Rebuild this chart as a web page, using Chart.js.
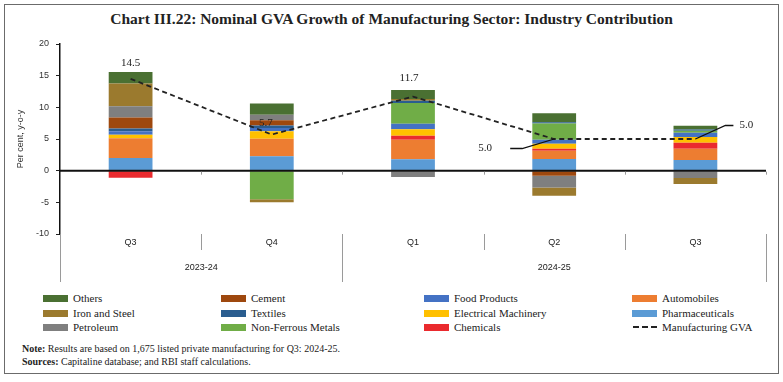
<!DOCTYPE html>
<html><head><meta charset="utf-8">
<script src="https://cdn.jsdelivr.net/npm/chart.js@4.4.1/dist/chart.umd.min.js"></script>
<style>
html,body{margin:0;padding:0;background:#fff;width:783px;height:382px;overflow:hidden;}
#frame{position:absolute;left:4px;top:4px;width:775px;height:370px;border:1px solid #6b6b6b;box-sizing:border-box;}
#title{position:absolute;left:0;top:10px;width:783px;text-align:center;font:bold 15.5px "Liberation Serif",serif;color:#222;}
#wrap{position:absolute;left:0;top:31px;width:783px;height:255px;}
#legend{position:absolute;left:0;top:291px;width:783px;height:45px;font:11px "Liberation Serif",serif;color:#222;}
.li{position:absolute;height:14px;line-height:14px;white-space:nowrap;}
.sw{position:absolute;left:0;top:3.5px;width:25px;height:7px;}
.dash{position:absolute;left:1px;top:6px;width:24px;height:0;border-top:2px dashed #222;}
.tx{position:absolute;left:30px;top:0;}
#notes{position:absolute;left:22px;top:342px;font:10px "Liberation Serif",serif;color:#222;line-height:13px;}
</style></head>
<body>
<div id="frame"></div>
<div id="title">Chart III.22: Nominal GVA Growth of Manufacturing Sector: Industry Contribution</div>
<div id="wrap"><canvas id="c" width="783" height="255"></canvas></div>
<div id="legend"></div>
<div id="notes"><b>Note:</b> Results are based on 1,675 listed private manufacturing for Q3: 2024-25.<br><b>Sources:</b> Capitaline database; and RBI staff calculations.</div>
<script>
// ---- data ----
const categories = ['Q3','Q4','Q1','Q2','Q3'];
const yearLabels = ['2023-24','2024-25'];
const yearSpans = [2,3];
const yTicks = [20,15,10,5,0,-5,-10];

const pharmaceuticals   = [2.0, 2.27, 1.8, 1.85, 1.7];
const automobiles       = [3.13, 2.75, 3.1, 1.3, 1.75];
const chemicals         = [-1.1, 0, 0.6, 0.3, 0.95];
const electricalMach    = [0.53, 1.2, 1.05, 0.8, 0.9];
const foodProducts      = [0.55, 0.5, 0.85, 0.65, 0.7];
const nonFerrousMetals  = [0, -4.5, 3.3, 2.55, 0.3];
const textiles          = [0.45, 0.4, 0.35, 0.2, 0.2];
const cement            = [1.73, 0.85, 0, -0.8, 0];
const petroleum         = [1.8, 0.85, -1.0, -1.85, -1.15];
const ironAndSteel      = [3.56, -0.5, 0.25, -1.3, -0.95];
const others            = [1.84, 1.8, 1.43, 1.4, 0.6];
const manufacturingGVA  = [14.5, 5.7, 11.7, 5.0, 5.0];
const gvaLabels         = ['14.5','5.7','11.7','5.0','5.0'];

const legendOrder = ['Others','Cement','Food Products','Automobiles','Iron and Steel','Textiles',
  'Electrical Machinery','Pharmaceuticals','Petroleum','Non-Ferrous Metals','Chemicals','Manufacturing GVA'];

// stacking order (bottom to top)
const series = [
  {name:'Pharmaceuticals', data:pharmaceuticals, color:'#5B9BD5'},
  {name:'Automobiles', data:automobiles, color:'#ED7D31'},
  {name:'Chemicals', data:chemicals, color:'#EA2A2E'},
  {name:'Electrical Machinery', data:electricalMach, color:'#FFC000'},
  {name:'Food Products', data:foodProducts, color:'#4472C4'},
  {name:'Non-Ferrous Metals', data:nonFerrousMetals, color:'#70AD47'},
  {name:'Textiles', data:textiles, color:'#2A5D8F'},
  {name:'Cement', data:cement, color:'#9E480E'},
  {name:'Petroleum', data:petroleum, color:'#7F7F7F'},
  {name:'Iron and Steel', data:ironAndSteel, color:'#9B7A2E'},
  {name:'Others', data:others, color:'#4A7032'}
];

const datasets = series.map(s => ({
  type:'bar', label:s.name, data:s.data, backgroundColor:s.color, borderWidth:0,
  stack:'ind', order:1, categoryPercentage:1, barPercentage:0.31
}));
datasets.push({
  type:'line', label:'Manufacturing GVA', data:manufacturingGVA, borderColor:'#222',
  borderWidth:1.8, borderDash:[5,3.5], pointRadius:0, fill:false, tension:0, stack:'gva', order:0
});

// ---- HTML legend ----
const colX = [43,221,424,632], rowY = [0,15,29];
const lg = document.getElementById('legend');
legendOrder.forEach((name,i) => {
  const d = datasets.find(ds => ds.label === name);
  const el = document.createElement('div');
  el.className = 'li';
  el.style.left = colX[i%4] + 'px';
  el.style.top = rowY[Math.floor(i/4)] + 'px';
  const sw = document.createElement('div');
  if (d.type === 'line') { sw.className = 'dash'; }
  else { sw.className = 'sw'; sw.style.background = d.backgroundColor; }
  const tx = document.createElement('span');
  tx.className = 'tx'; tx.textContent = name;
  el.appendChild(sw); el.appendChild(tx);
  lg.appendChild(el);
});

// ---- custom drawing plugin ----
const decor = {
  id:'decor',
  afterDatasetsDraw(chart){
    const {ctx, chartArea:a, scales:{x,y}} = chart;
    const catW = (a.right - a.left) / categories.length;
    const y0 = y.getPixelForValue(0);
    ctx.save();
    // zero line
    ctx.strokeStyle = '#111'; ctx.lineWidth = 2;
    ctx.beginPath(); ctx.moveTo(a.left, y0); ctx.lineTo(a.right, y0); ctx.stroke();
    // small ticks on zero line
    ctx.strokeStyle = '#999'; ctx.lineWidth = 1;
    for (let i=1;i<=categories.length;i++){
      const xx = Math.round(a.left + i*catW) + 0.5;
      ctx.beginPath(); ctx.moveTo(xx, y0+1); ctx.lineTo(xx, y0+4); ctx.stroke();
    }
    // separators below the plot
    const bounds = [0]; let acc = 0;
    yearSpans.forEach(s => { acc += s; bounds.push(acc); });
    ctx.strokeStyle = '#9a9a9a';
    for (let i=0;i<=categories.length;i++){
      const xx = Math.round(a.left + i*catW) + 0.5;
      const long = bounds.includes(i);
      ctx.beginPath(); ctx.moveTo(xx, a.bottom); ctx.lineTo(xx, a.bottom + (long ? 48 : 16)); ctx.stroke();
    }
    // year labels
    ctx.fillStyle = '#222'; ctx.font = '9px "Liberation Sans", sans-serif';
    ctx.textAlign = 'center'; ctx.textBaseline = 'middle';
    yearLabels.forEach((lab,k) => {
      const x1 = a.left + bounds[k]*catW, x2 = a.left + bounds[k+1]*catW;
      ctx.fillText(lab, (x1+x2)/2, a.bottom + 34);
    });
    // data labels of GVA line
    const meta = chart.getDatasetMeta(datasets.length-1);
    const offs = [
      {dx:0, dy:-16},
      {dx:-6, dy:-11},
      {dx:-4, dy:-18},
      {dx:-69, dy:9.5, lead:[[-32,9.5],[-44,9.5]]},
      {dx:51, dy:-13.5, lead:[[30,-13.5],[38,-13.5]]}
    ];
    ctx.font = '11px "Liberation Serif", serif';
    meta.data.forEach((pt,i) => {
      const o = offs[i];
      if (o.lead){
        ctx.strokeStyle = '#111'; ctx.lineWidth = 1.3;
        ctx.beginPath(); ctx.moveTo(pt.x, pt.y);
        o.lead.forEach(p => ctx.lineTo(pt.x+p[0], pt.y+p[1]));
        ctx.stroke();
      }
      ctx.fillStyle = '#222';
      ctx.fillText(gvaLabels[i], pt.x + o.dx, pt.y + o.dy);
    });
    ctx.restore();
  }
};

new Chart(document.getElementById('c'), {
  data:{ labels:categories, datasets },
  options:{
    responsive:false, animation:false,
    layout:{padding:{left:0,right:17,top:13,bottom:0}},
    plugins:{legend:{display:false}, tooltip:{enabled:false}},
    scales:{
      x:{
        stacked:true, offset:true,
        grid:{display:false, drawTicks:false},
        border:{display:false},
        ticks:{color:'#222', font:{family:'"Liberation Sans", sans-serif', size:9}, padding:3, maxRotation:0},
        afterFit(s){ s.height = 52; }
      },
      y:{
        stacked:true, min:-10, max:20,
        afterBuildTicks(s){ s.ticks = yTicks.map(v => ({value:v})); },
        grid:{drawOnChartArea:false, drawTicks:true, tickLength:4, tickColor:'#222'},
        border:{display:true, color:'#111', width:1.5},
        ticks:{color:'#333', font:{family:'"Liberation Sans", sans-serif', size:9}, padding:7},
        title:{display:true, text:'Per cent, y-o-y', color:'#333', font:{family:'"Liberation Sans", sans-serif', size:9}, padding:{top:15,bottom:0}},
        afterFit(s){ s.width = 60; }
      }
    }
  },
  plugins:[decor]
});
</script>
</body></html>
